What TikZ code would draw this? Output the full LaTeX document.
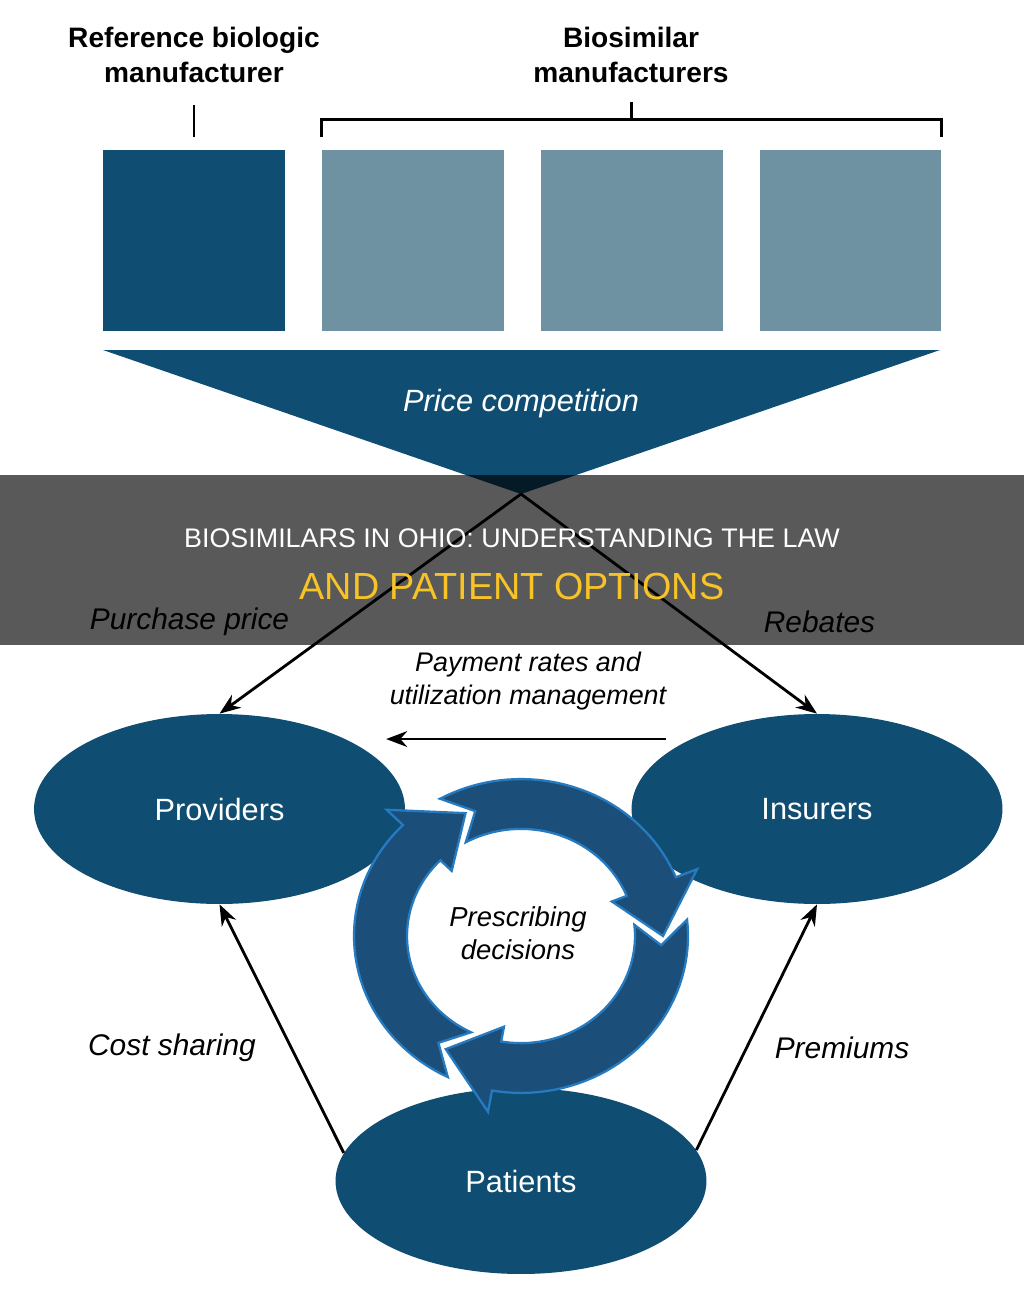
\documentclass[tikz,border=0pt]{standalone}
\usepackage{fontspec}
\setmainfont{Liberation Sans}
\usepackage{xcolor}
\usetikzlibrary{shapes.geometric,arrows.meta,positioning}
\definecolor{ellblue}{RGB}{15,77,114}
\definecolor{simgrey}{RGB}{111,146,163}
\definecolor{cycblue}{RGB}{27,79,122}
\definecolor{cycedge}{RGB}{38,122,192}
\definecolor{bnyellow}{RGB}{247,195,39}

% one arrow of the cycle: tail angle, head base angle, tip angle
\newcommand{\cycarrow}[3]{%
  \pgfmathsetmacro{\notch}{#1-10}
  \filldraw[cyc] plot[domain=#1:#2,samples=40] (\x:167) -- (#2:190) -- (#3:142)
    -- (#2:98) -- plot[domain=#2:#1,samples=40] (\x:114) -- (\notch:140.5) -- cycle;
}

\begin{document}
\begin{tikzpicture}[x=0.02cm,y=-0.02cm,
          hdr/.style={font=\bfseries\fontsize{16}{20.4}\selectfont,align=center},
          lbl/.style={font=\itshape\fontsize{17}{20}\selectfont},
          party/.style={ellipse,fill=ellblue,text=white,inner sep=0pt,
                        minimum width=7.42cm,minimum height=3.8cm,
                        font=\fontsize{17.5}{21}\selectfont},
          refbox/.style={fill=ellblue,inner sep=0pt,
                         minimum width=3.64cm,minimum height=3.62cm},
          simbox/.style={refbox,fill=simgrey},
          flow/.style={-{Stealth[length=12pt,width=9pt]},line width=1.6pt},
          brk/.style={line width=1.7pt},
          cyc/.style={fill=cycblue,draw=cycedge,line width=1.3pt,line join=miter}]
        \useasboundingbox (0,0) rectangle (1024,1292);
        % manufacturers
        \node[refbox] (ref) at (194,240.5) {};
        \node[simbox,right=0.72cm of ref] (simA) {};
        \node[simbox,right=0.725cm of simA] (simB) {};
        \node[simbox,right=0.725cm of simB] (simC) {};
        \node[hdr] (reflbl) at (194,55) {Reference biologic\\manufacturer};
        \node[hdr] (simlbl) at (631,55) {Biosimilar\\manufacturers};
        \draw[brk] ([yshift=7pt]ref.north) -- ([yshift=25.5pt]ref.north);
        \draw[brk] ([yshift=7pt]simA.north west) |- ([yshift=17pt]simB.north)
          -| ([yshift=7pt]simC.north east);
        \draw[brk] ([yshift=17pt]simB.north) -- ([yshift=27pt]simB.north);
        % funnel
        \coordinate (apex) at (521,494);
        \fill[ellblue] (103,350) -- (940,350) -- (apex) -- cycle;
        \node[lbl,text=white,font=\itshape\fontsize{17.5}{21}\selectfont] (price)
          at (521,404) {Price competition};
        % parties
        \node[party] (prov) at (219.5,809) {Providers};
        \node[party] (ins) at (817,809) {Insurers};
        \node[party,minimum height=3.72cm] (pat) at (521,1181) {Patients};
        \draw[flow] (apex) -- (prov.north);
        \draw[flow] (apex) -- (ins.north);
        \draw[flow] ([xshift=-14pt]ins.151) -- ([xshift=23pt]prov.29);
        \draw[flow] (pat.171) -- (prov.south);
        \draw[flow] (pat.10) -- (ins.south);
        \node[lbl] (purch) at (189.5,622) {Purchase price};
        \node[lbl] (reb) at (819.5,622) {Rebates};
        \node[lbl,align=center,font=\itshape\fontsize{15.3}{18.7}\selectfont] (pay)
          at (528,681) {Payment rates and\\utilization management};
        \node[lbl] (cost) at (172,1048) {Cost sharing};
        \node[lbl] (prem) at (842,1048) {Premiums};
        % prescribing cycle
        \begin{scope}[shift={(521,936)},x=0.02cm,y=0.0188cm]
          \cycarrow{366}{260}{238}
          \cycarrow{244}{135}{113}
          \cycarrow{119}{22}{0}
        \end{scope}
        \node[lbl,align=center,font=\itshape\fontsize{15.6}{18.7}\selectfont] (presc)
          at (518,933) {Prescribing\\decisions};
        % title banner
        \fill[black,opacity=0.65] (0,475) rectangle (1024,645);
        \node[text=white,font=\fontsize{15.3}{18}\selectfont] (ttl) at (512,538)
          {BIOSIMILARS IN OHIO: UNDERSTANDING THE LAW};
        \node[text=bnyellow,font=\fontsize{21.5}{24}\selectfont] (sub) at (512,586)
          {AND PATIENT OPTIONS};
      \end{tikzpicture}
\end{document}
